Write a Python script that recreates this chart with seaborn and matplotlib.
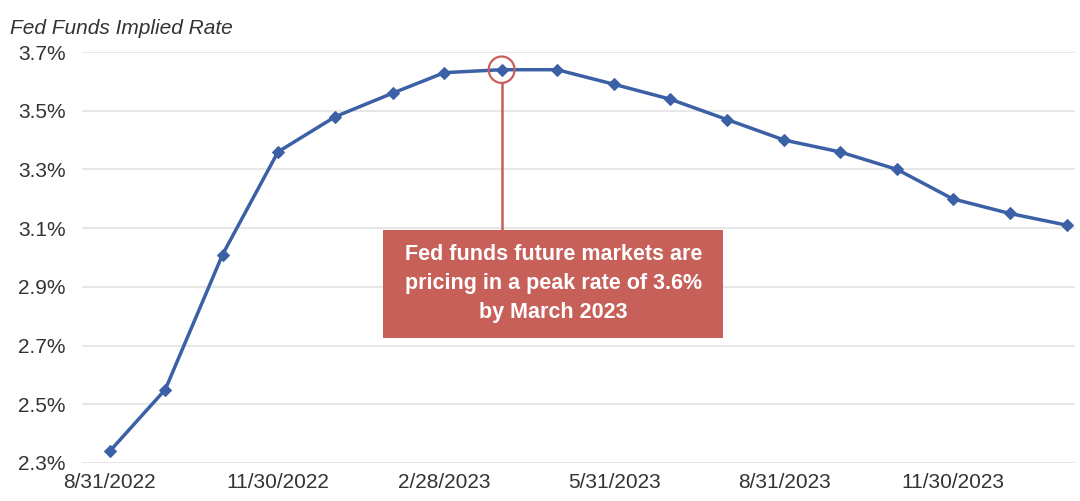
import pandas as pd
import numpy as np
import matplotlib.pyplot as plt
import seaborn as sns
from matplotlib.patches import Ellipse, Rectangle

# data (month-end fed funds implied rate, %)
dates = ["2022-08-31", "2022-09-30", "2022-10-31", "2022-11-30", "2022-12-31",
         "2023-01-31", "2023-02-28", "2023-03-31", "2023-04-30", "2023-05-31",
         "2023-06-30", "2023-07-31", "2023-08-31", "2023-09-30", "2023-10-31",
         "2023-11-30", "2023-12-31", "2024-01-31"]
rates = [2.34, 2.55, 3.01, 3.36, 3.48, 3.56, 3.63, 3.64, 3.64, 3.59,
         3.54, 3.47, 3.40, 3.36, 3.30, 3.20, 3.15, 3.11]
tick_dates = ["2022-08-31", "2022-11-30", "2023-02-28", "2023-05-31", "2023-08-31", "2023-11-30"]
tick_labels = ["8/31/2022", "11/30/2022", "2/28/2023", "5/31/2023", "8/31/2023", "11/30/2023"]
y_ticks = [2.3, 2.5, 2.7, 2.9, 3.1, 3.3, 3.5, 3.7]
peak_date = "2023-03-31"
peak_rate = 3.64
note = "Fed funds future markets are\npricing in a peak rate of 3.6%\nby March 2023"

df = pd.DataFrame({"Date": pd.to_datetime(dates), "Rate": rates})

sns.set_style("white")
plt.rcParams["font.family"] = ["Liberation Sans", "DejaVu Sans"]

fig = plt.figure(figsize=(10.8, 5.01), dpi=100)
ax = fig.add_axes([0.076, 0.076, 0.919, 0.82])

line_color = "#3b60a5"
red = "#c8605a"
text_color = "#333333"

sns.lineplot(data=df, x="Date", y="Rate", ax=ax, color=line_color, linewidth=2.5,
             marker="D", markersize=6, markeredgecolor=line_color, zorder=3)

ax.set_ylim(2.3, 3.7)
ax.set_yticks(y_ticks)
ax.set_yticklabels([f"{v:.1f}%" for v in y_ticks], fontsize=15, color=text_color)
ax.set_xlim(pd.Timestamp("2022-08-16"), pd.Timestamp("2024-02-04"))
ax.set_xticks(pd.to_datetime(tick_dates))
ax.set_xticklabels(tick_labels, fontsize=15, color=text_color)
ax.tick_params(axis="y", length=0, pad=12)
ax.tick_params(axis="x", length=0, pad=7)
ax.set_xlabel("")
ax.set_ylabel("")
ax.grid(axis="y", color="#e3e3e3", linewidth=1.2)
ax.set_axisbelow(True)
for s in ax.spines.values():
    s.set_visible(False)

fig.text(0.009, 0.944, "Fed Funds Implied Rate", fontsize=15, style="italic",
         color=text_color, ha="left", va="center")

# peak marker circle and connector to the note box
px = pd.Timestamp(peak_date)
box_left, box_right = pd.Timestamp("2023-01-26"), pd.Timestamp("2023-07-29")
box_bottom, box_top = 2.726, 3.094
ax.add_patch(Ellipse((px, peak_rate), width=14, height=0.09, fill=False,
                     edgecolor=red, linewidth=1.6, zorder=4))
ax.plot([px, px], [peak_rate - 0.045, box_top], color=red, linewidth=1.8, zorder=2)
ax.add_patch(Rectangle((box_left, box_bottom), box_right - box_left, box_top - box_bottom,
                       facecolor=red, edgecolor="none", zorder=5))
ax.text(box_left + (box_right - box_left) / 2, (box_bottom + box_top) / 2, note,
        ha="center", va="center", fontsize=15.5, fontweight="bold", color="white",
        linespacing=1.5, zorder=6)

fig.savefig("out.png", dpi=100, facecolor="white")
